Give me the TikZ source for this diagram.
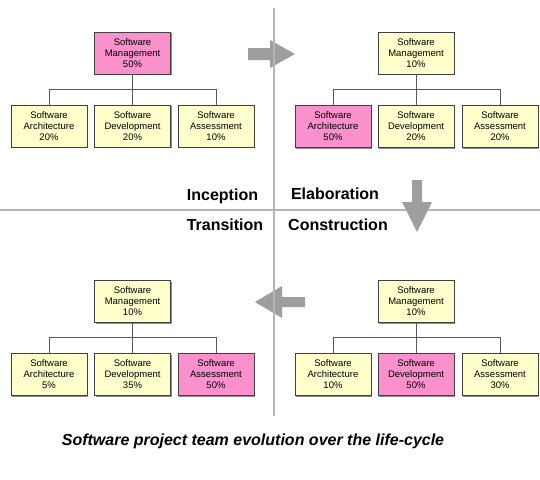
\documentclass[tikz,border=0pt]{standalone}
\usepackage{fontspec}
\setmainfont{Liberation Sans}
\usetikzlibrary{shadows}
\definecolor{boxyellow}{HTML}{FFFFCC}
\definecolor{boxpink}{HTML}{FA90CC}
\definecolor{arrowgray}{HTML}{9E9E9E}
\definecolor{divgray}{HTML}{B4B4B4}
\tikzset{
  role/.style={draw=black!75, line width=0.8pt, fill=boxyellow,
    minimum width=76pt, minimum height=42pt, inner sep=0pt, align=center,
    font=\fontsize{9.5}{11}\selectfont,
    drop shadow={shadow xshift=1.3pt, shadow yshift=-1.3pt, fill=black!45, opacity=1}},
  lead/.style={role, fill=boxpink},
  link/.style={draw=black!65, line width=1pt},
  phase/.style={font=\fontsize{16}{19}\selectfont\bfseries},
  divider/.style={draw=divgray, line width=1.6pt},
  bigarrow/.style={fill=arrowgray}
}
\begin{document}
\begin{tikzpicture}[x=1pt,y=-1pt]
\useasboundingbox (0,0) rectangle (540,479);
\fill[white] (0,0) rectangle (540,479);

% quadrant dividers
\draw[divider] (0,210) -- (540,210);

% phase arrows
\fill[bigarrow] (248,48) -- (270,48) -- (270,40) -- (295,54) -- (270,68) -- (270,60) -- (248,60) -- cycle;
\fill[bigarrow] (412,180) -- (422,180) -- (422,202) -- (432,202) -- (417,232) -- (402,202) -- (412,202) -- cycle;
\fill[bigarrow] (305,297) -- (282,297) -- (282,286) -- (255,302) -- (282,318) -- (282,307) -- (305,307) -- cycle;
\draw[divider] (274,8) -- (274,416);

% phase names
\node[phase] (inc) at (222.5,196) {Inception};
\node[phase] (ela) at (335,194) {Elaboration};
\node[phase] (tra) at (225,225) {Transition};
\node[phase] (con) at (338,225) {Construction};

% Inception team
\node[lead] (im) at (132.5,53) {Software\\Management\\50\%};
\node[role] (ia) at (49,126) {Software\\Architecture\\20\%};
\node[role] (id) at (132.5,126) {Software\\Development\\20\%};
\node[role] (is) at (216,126) {Software\\Assessment\\10\%};
\draw[link] (im.south) -- ++(0,15) coordinate (ib);
\draw[link] (ia.north) |- (ib) -| (is.north);
\draw[link] (id.north) -- (id.north |- ib);

% Elaboration team
\node[role] (em) at (416,53) {Software\\Management\\10\%};
\node[lead] (ea) at (333,126.5) {Software\\Architecture\\50\%};
\node[role] (ed) at (416,126.5) {Software\\Development\\20\%};
\node[role] (es) at (500,126.5) {Software\\Assessment\\20\%};
\draw[link] (em.south) -- ++(0,15) coordinate (eb);
\draw[link] (ea.north) |- (eb) -| (es.north);
\draw[link] (ed.north) -- (ed.north |- eb);

% Transition team
\node[role] (tm) at (132.5,301.5) {Software\\Management\\10\%};
\node[role] (ta) at (49,374.5) {Software\\Architecture\\5\%};
\node[role] (td) at (132.5,374.5) {Software\\Development\\35\%};
\node[lead] (ts) at (216,374.5) {Software\\Assessment\\50\%};
\draw[link] (tm.south) -- ++(0,15) coordinate (tb);
\draw[link] (ta.north) |- (tb) -| (ts.north);
\draw[link] (td.north) -- (td.north |- tb);

% Construction team
\node[role] (cm) at (416,301.5) {Software\\Management\\10\%};
\node[role] (ca) at (333,374.5) {Software\\Architecture\\10\%};
\node[lead] (cd) at (416,374.5) {Software\\Development\\50\%};
\node[role] (cs) at (500,374.5) {Software\\Assessment\\30\%};
\draw[link] (cm.south) -- ++(0,15) coordinate (cb);
\draw[link] (ca.north) |- (cb) -| (cs.north);
\draw[link] (cd.north) -- (cd.north |- cb);

% caption
\node[font=\fontsize{16}{19}\selectfont\bfseries\itshape] (cap) at (253,441) {Software project team evolution over the life-cycle};
\end{tikzpicture}
\end{document}
